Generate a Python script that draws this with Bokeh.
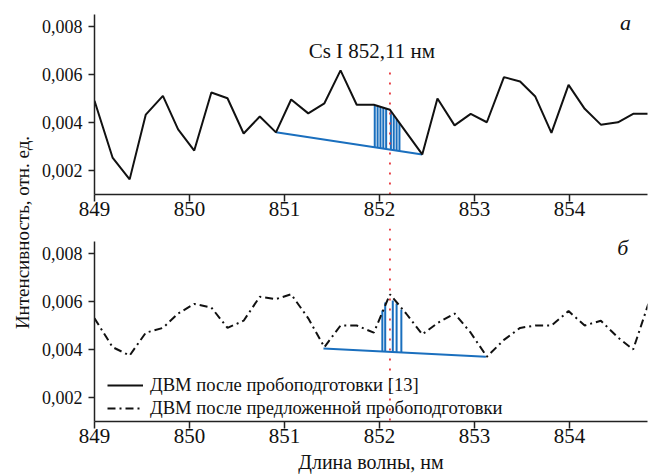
import math
from bokeh.plotting import figure
from bokeh.layouts import row, column
from bokeh.models import (FixedTicker, CustomJSTickFormatter, Label, Span,
                          Legend, LegendItem)
from bokeh.embed import file_html
from bokeh.resources import INLINE

# ---------------- data ----------------
wavelength = [849.00, 849.19, 849.37, 849.54, 849.72, 849.88, 850.05, 850.23, 850.40,
              850.57, 850.74, 850.91, 851.07, 851.25, 851.42, 851.59, 851.76, 851.94,
              852.11, 852.28, 852.45, 852.61, 852.79, 852.96, 853.13, 853.31, 853.48,
              853.64, 853.81, 853.99, 854.16, 854.33, 854.51, 854.67, 854.83]
intensity_a = [0.00490, 0.00254, 0.00163, 0.00433, 0.00511, 0.00371, 0.00283, 0.00525,
               0.00501, 0.00354, 0.00425, 0.00359, 0.00496, 0.00438, 0.00480, 0.00617,
               0.00474, 0.00474, 0.00453, 0.00360, 0.00267, 0.00500, 0.00388, 0.00436,
               0.00401, 0.00589, 0.00571, 0.00508, 0.00357, 0.00557, 0.00457, 0.00391,
               0.00401, 0.00436, 0.00436]
intensity_b = [0.00530, 0.00410, 0.00375, 0.00470, 0.00490, 0.00550, 0.00590, 0.00575,
               0.00490, 0.00520, 0.00620, 0.00610, 0.00630, 0.00530, 0.00410, 0.00500,
               0.00500, 0.00470, 0.00630, 0.00550, 0.00463, 0.00510, 0.00550, 0.00470,
               0.00370, 0.00440, 0.00490, 0.00500, 0.00500, 0.00560, 0.00500, 0.00520,
               0.00450, 0.00400, 0.00590]

# background baselines (blue)
base_a_x = [850.91, 852.45]
base_a_y = [0.00359, 0.00267]
base_b_x = [851.41, 853.12]
base_b_y = [0.00404, 0.00370]

# integrated line area strokes (blue verticals)
bars_a_x = [851.95, 851.98, 852.01, 852.04, 852.07, 852.12, 852.15, 852.18, 852.21]
bars_a_top = [0.00473, 0.00469, 0.00465, 0.00461, 0.00458, 0.00448, 0.00431, 0.00415, 0.00398]
bars_a_bot = [0.00297, 0.00295, 0.00293, 0.00292, 0.00290, 0.00287, 0.00285, 0.00283, 0.00282]
bars_b_x = [852.03, 852.06, 852.14, 852.18, 852.23]
bars_b_top = [0.00563, 0.00596, 0.00604, 0.00592, 0.00567]
bars_b_bot = [0.00391, 0.00391, 0.00390, 0.00390, 0.00389]

CS_LINE = 852.11
CS_LINE_TOP = 0.0062

x_ticks = [849, 850, 851, 852, 853, 854]
y_ticks = [0.002, 0.004, 0.006, 0.008]

title_text = "Cs I 852,11 нм"
legend_a = "ДВМ после пробоподготовки [13]"
legend_b = "ДВМ после предложенной пробоподготовки"
x_label = "Длина волны, нм"
y_label = "Интенсивность, отн. ед."

# ---------------- style ----------------
FONT = "Liberation Serif"
QFONT = "'Liberation Serif', serif"
BLUE = "#1a6fbe"
RED = "#e8353a"
AX = "#222222"
FRAME_W = 553
X_RANGE = (849.0, 849.0 + FRAME_W / 95.0)
LABEL_W = 36
TOTAL_H = 474

fmt = CustomJSTickFormatter(code="return tick.toFixed(3).replace('.', ',');")


def style(p):
    p.grid.visible = False
    p.outline_line_color = None
    p.background_fill_color = "white"
    p.border_fill_color = "white"
    for ax in (p.xaxis[0], p.yaxis[0]):
        ax.axis_line_color = AX
        ax.axis_line_width = 1.5
        ax.major_tick_line_color = AX
        ax.major_tick_line_width = 1.5
        ax.major_tick_in = 0
        ax.minor_tick_line_color = None
        ax.major_label_text_font = QFONT
        ax.major_label_text_color = "#111111"
    p.xaxis.ticker = FixedTicker(ticks=x_ticks)
    p.xaxis.major_tick_out = 7
    p.xaxis.major_label_standoff = 0
    p.xaxis.major_label_text_font_size = "21px"
    p.yaxis.ticker = FixedTicker(ticks=y_ticks)
    p.yaxis.formatter = fmt
    p.yaxis.major_tick_out = 6
    p.yaxis.major_label_standoff = 6
    p.yaxis.major_label_text_font_size = "18px"


# ---------------- top panel (а) ----------------
p1 = figure(frame_width=FRAME_W, frame_height=180, x_range=X_RANGE, y_range=(0.001, 0.0085),
            output_backend="svg", toolbar_location=None,
            min_border_left=94 - LABEL_W, min_border_right=3, min_border_top=14,
            min_border_bottom=30)
style(p1)
p1.segment(x0=bars_a_x, y0=bars_a_bot, x1=bars_a_x, y1=bars_a_top, line_color=BLUE, line_width=2)
p1.line(base_a_x, base_a_y, line_color=BLUE, line_width=2)
p1.segment(x0=[CS_LINE], y0=[0.001], x1=[CS_LINE], y1=[CS_LINE_TOP],
           line_color=RED, line_width=1.8, line_dash="2 8")
p1.line(wavelength, intensity_a, line_color="#111111", line_width=2)
p1.add_layout(Label(x=851.92, y=0.0070, text=title_text, text_font=FONT, text_font_size="21px",
                    text_align="center", text_baseline="middle", text_color="#111111"))
p1.add_layout(Label(x=854.59, y=0.00817, text="а", text_font=FONT, text_font_size="22px",
                    text_font_style="italic", text_align="center", text_baseline="middle",
                    text_color="#111111"))

# ---------------- bottom panel (б) ----------------
p2 = figure(frame_width=FRAME_W, frame_height=193, x_range=X_RANGE,
            y_range=(0.001, 0.001 + 193 / 24000.0),
            output_backend="svg", toolbar_location=None,
            min_border_left=94 - LABEL_W, min_border_right=3, min_border_top=4,
            min_border_bottom=20)
style(p2)
p2.yaxis.bounds = (0.001, 0.0085)
p2.xaxis.axis_label = x_label
p2.xaxis.axis_label_text_font = QFONT
p2.xaxis.axis_label_text_font_size = "20px"
p2.xaxis.axis_label_text_font_style = "normal"
p2.xaxis.axis_label_text_color = "#111111"
p2.xaxis.axis_label_standoff = 5
p2.segment(x0=bars_b_x, y0=bars_b_bot, x1=bars_b_x, y1=bars_b_top, line_color=BLUE, line_width=2)
p2.line(base_b_x, base_b_y, line_color=BLUE, line_width=2)
p2.add_layout(Span(location=CS_LINE, dimension="height", line_color=RED, line_width=1.8,
                   line_dash="2 8"))
r_b = p2.line(wavelength, intensity_b, line_color="#111111", line_width=2, line_dash="8 4 2 4")
# legend proxy for the solid series (drawn in panel а)
r_a_proxy = p2.line(x=[float("nan")], y=[float("nan")], line_color="#111111", line_width=2)
p2.add_layout(Label(x=854.56, y=0.00825, text="б", text_font=FONT, text_font_size="22px",
                    text_font_style="italic", text_align="center", text_baseline="middle",
                    text_color="#111111"))

legend = Legend(items=[LegendItem(label=legend_a, renderers=[r_a_proxy]),
                       LegendItem(label=legend_b, renderers=[r_b])],
                location=(9, -2), padding=4, spacing=1, margin=0,
                glyph_width=36, glyph_height=20, label_height=20, label_standoff=7,
                label_text_font=QFONT, label_text_font_size="18.6px",
                label_text_color="#111111",
                background_fill_alpha=0, border_line_alpha=0)
p2.add_layout(legend)

# ---------------- shared y label ----------------
pl = figure(width=LABEL_W, height=TOTAL_H, x_range=(0, LABEL_W), y_range=(0, TOTAL_H),
            output_backend="svg", toolbar_location=None, min_border=0)
pl.axis.visible = False
pl.grid.visible = False
pl.outline_line_color = None
pl.add_layout(Label(x=22, y=TOTAL_H - 232, text=y_label, angle=math.pi / 2,
                    text_font=FONT, text_font_size="19px", text_align="center",
                    text_baseline="middle", text_color="#111111"))

layout = row(pl, column(p1, p2, spacing=0), spacing=0)

open("out.html", "w").write(file_html(layout, INLINE))
